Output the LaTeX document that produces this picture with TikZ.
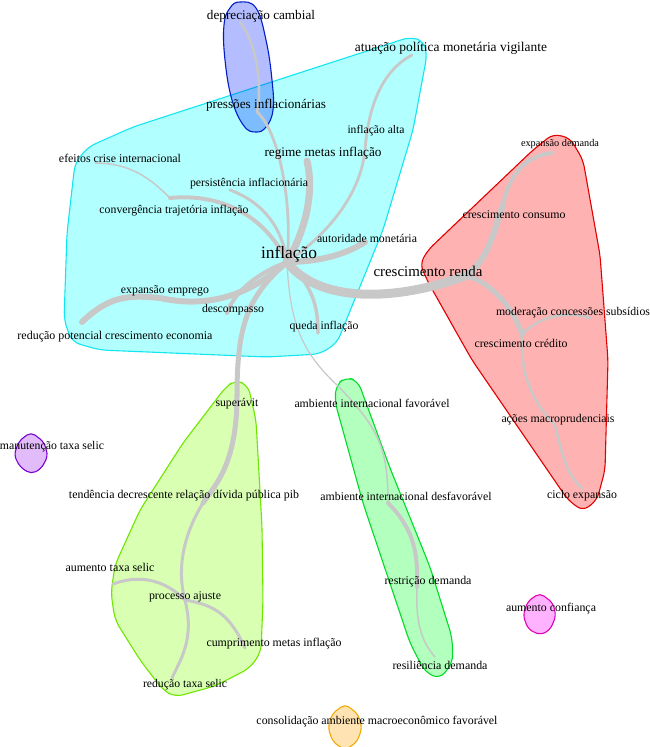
\documentclass[tikz,border=0pt]{standalone}
\usepackage{fontspec}
\setmainfont{Liberation Serif}
\definecolor{eg}{RGB}{200,200,200}
\definecolor{cyanf}{RGB}{0,255,255}\definecolor{cyanb}{RGB}{20,230,240}
\definecolor{bluef}{RGB}{5,38,255}\definecolor{blueb}{RGB}{0,30,200}
\definecolor{redf}{RGB}{255,0,0}\definecolor{redb}{RGB}{225,0,0}
\definecolor{chartf}{RGB}{127,255,0}\definecolor{chartb}{RGB}{110,230,0}
\definecolor{greenf}{RGB}{0,255,40}\definecolor{greenb}{RGB}{0,220,40}
\definecolor{purf}{RGB}{160,32,240}\definecolor{purb}{RGB}{120,0,210}
\definecolor{pinkf}{RGB}{255,0,255}\definecolor{pinkb}{RGB}{225,0,180}
\definecolor{oraf}{RGB}{255,165,0}\definecolor{orab}{RGB}{240,170,0}
\newcommand\wl[2]{\resizebox{#1pt}{!}{#2}}
\begin{document}
\begin{tikzpicture}[x=1pt,y=-1pt,
  blob/.style 2 args={draw=#1, fill=#2, fill opacity=0.3, line width=1.1pt, line join=round},
  cnx/.style={draw=eg, line width=#1, line cap=round},
  lab/.style={inner sep=0pt, text=black, yshift=-1.5pt}]
\useasboundingbox (0,0) rectangle (650,747);
\fill[white] (0,0) rectangle (650,747);
% groups
\draw[blob={cyanb}{cyanf}, rounded corners=8pt] (410,37) -- (424,41) -- (427,55) -- (413,130) -- (383,230) -- (337,343) -- (320,354) -- (267,357) -- (100,350) -- (72,342) -- (64,320) -- (67,233) -- (75,163) -- (88,147) -- (133,127) -- cycle;
\draw[blob={blueb}{bluef}] plot[smooth cycle, tension=0.7] coordinates {(240,2) (256,8) (266,40) (272,80) (273,110) (266,127) (256,132) (244,126) (232,100) (225,60) (224,25) (230,8)};
\draw[blob={redb}{redf}, rounded corners=7pt] (553,134) -- (570,138) -- (583,160) -- (600,255) -- (608,360) -- (605,470) -- (597,500) -- (583,511) -- (568,500) -- (472,360) -- (428,282) -- (420,264) -- (428,250) -- (533,150) -- cycle;
\draw[blob={chartb}{chartf}, rounded corners=8pt] (235,380) -- (248,385) -- (256,420) -- (262,527) -- (263,600) -- (261,652) -- (250,668) -- (215,686) -- (175,697) -- (163,690) -- (140,660) -- (115,620) -- (111,593) -- (115,565) -- (140,510) -- (183,443) -- (225,388) -- cycle;
\draw[blob={greenb}{greenf}, rounded corners=8pt] (346,377) -- (358,381) -- (390,468) -- (430,567) -- (452,637) -- (453,662) -- (440,679) -- (425,672) -- (410,643) -- (363,503) -- (335,402) -- (336,385) -- cycle;
\draw[blob={purb}{purf}, rounded corners=5pt] (31,432) -- (44,442) -- (48,456) -- (41,469) -- (31,474) -- (20,467) -- (14,455) -- (19,441) -- cycle;
\draw[blob={pinkb}{pinkf}, rounded corners=5pt] (540,593) -- (553,603) -- (556,616) -- (550,630) -- (540,635) -- (528,629) -- (523,615) -- (528,601) -- cycle;
\draw[blob={orab}{oraf}, rounded corners=5pt] (345,704) -- (358,714) -- (362,728) -- (357,742) -- (345,750) -- (333,742) -- (328,728) -- (332,714) -- cycle;
% points
\coordinate (hub) at (287,262);
\coordinate (pDep) at (240,22);
\coordinate (pPre) at (257,112);
\coordinate (pAtu) at (412,55);
\coordinate (pAlta) at (365,150);
\coordinate (pReg) at (307,161);
\coordinate (pEfe) at (95,163);
\coordinate (pCon) at (170,198);
\coordinate (pPer) at (230,190);
\coordinate (pAut) at (365,242);
\coordinate (pRen) at (465,276);
\coordinate (pCons) at (503,205);
\coordinate (pDem) at (552,153);
\coordinate (pCre) at (522,335);
\coordinate (pMod) at (590,318);
\coordinate (pAco) at (555,425);
\coordinate (pCic) at (583,489);
\coordinate (pRed) at (82,322);
\coordinate (pEmp) at (160,298);
\coordinate (pDes) at (227,313);
\coordinate (pSup) at (237,395);
\coordinate (pTen) at (203,503);
\coordinate (pPro) at (185,600);
\coordinate (pRts) at (172,678);
\coordinate (pAum) at (113,584);
\coordinate (pCum) at (245,648);
\coordinate (pQue) at (318,333);
\coordinate (pAif) at (340,388);
\coordinate (pAid) at (388,503);
\coordinate (pRes) at (417,587);
\coordinate (pRsl) at (435,657);
% connectors
\draw[cnx=2.5pt] (pDep) .. controls (258,45) and (262,90) .. (pPre);
\draw[cnx=2.8pt] (pPre) .. controls (278,130) and (293,200) .. (hub);
\draw[cnx=2.8pt] (pAtu) .. controls (380,72) and (368,110) .. (pAlta);
\draw[cnx=2.8pt] (pAlta) .. controls (360,200) and (320,240) .. (hub);
\draw[cnx=7pt] (pReg) .. controls (316,200) and (300,240) .. (hub);
\draw[cnx=1.5pt] (pEfe) .. controls (130,163) and (150,178) .. (pCon);
\draw[cnx=4pt] (pCon) .. controls (220,193) and (265,215) .. (hub);
\draw[cnx=3pt] (pPer) .. controls (265,203) and (283,230) .. (hub);
\draw[cnx=6pt] (pAut) .. controls (340,258) and (310,262) .. (hub);
\draw[cnx=9pt] (hub) .. controls (320,305) and (400,300) .. (pRen);
\draw[cnx=6pt] (pRen) .. controls (490,260) and (495,225) .. (pCons);
\draw[cnx=4pt] (pCons) .. controls (510,170) and (530,155) .. (pDem);
\draw[cnx=5pt] (pRen) .. controls (490,280) and (515,310) .. (pCre);
\draw[cnx=2.5pt] (pMod) .. controls (565,310) and (535,318) .. (pCre);
\draw[cnx=2.5pt] (pCre) .. controls (520,370) and (530,400) .. (pAco);
\draw[cnx=2.5pt] (pAco) .. controls (560,445) and (565,475) .. (pCic);
\draw[cnx=6pt] (pRed) .. controls (110,295) and (130,295) .. (pEmp);
\draw[cnx=6pt] (pEmp) .. controls (215,310) and (255,290) .. (hub);
\draw[cnx=4pt] (pDes) .. controls (235,290) and (260,272) .. (hub);
\draw[cnx=5pt] (hub) .. controls (250,295) and (237,320) .. (pSup);
\draw[cnx=5pt] (pSup) .. controls (237,465) and (215,485) .. (pTen);
\draw[cnx=3pt] (pTen) .. controls (180,540) and (178,575) .. (pPro);
\draw[cnx=3pt] (pPro) .. controls (195,640) and (180,660) .. (pRts);
\draw[cnx=3pt] (pAum) .. controls (140,574) and (165,580) .. (pPro);
\draw[cnx=3pt] (pPro) .. controls (215,605) and (230,615) .. (pCum);
\draw[cnx=3.5pt] (hub) .. controls (312,285) and (318,305) .. (pQue);
\draw[cnx=1.2pt] (hub) .. controls (290,330) and (305,355) .. (pAif);
\draw[cnx=1.5pt] (pAif) .. controls (380,430) and (388,450) .. (pAid);
\draw[cnx=4pt] (pAid) .. controls (415,530) and (418,555) .. (pRes);
\draw[cnx=1.5pt] (pRes) .. controls (415,630) and (425,645) .. (pRsl);
% labels
\node[lab] (n1) at (261,15) {\wl{108}{depreciação cambial}};
\node[lab] (n2) at (266,104) {\wl{120}{pressões inflacionárias}};
\node[lab] (n3) at (451,47) {\wl{192}{atuação política monetária vigilante}};
\node[lab] (n4) at (376,129) {\wl{57}{inflação alta}};
\node[lab] (n5) at (323,152) {\wl{117}{regime metas inflação}};
\node[lab] (n6) at (120,157) {\wl{122}{efeitos crise internacional}};
\node[lab] (n7) at (249,182) {\wl{118}{persistência inflacionária}};
\node[lab] (n8) at (174,209) {\wl{149}{convergência trajetória inflação}};
\node[lab] (n9) at (367,237) {\wl{100}{autoridade monetária}};
\node[lab] (n10) at (289,253) {\wl{56}{inflação}};
\node[lab] (n11) at (428,270) {\wl{109}{crescimento renda}};
\node[lab] (n12) at (165,289) {\wl{88}{expansão emprego}};
\node[lab] (n13) at (233,308) {\wl{62}{descompasso}};
\node[lab] (n14) at (115,335) {\wl{195}{redução potencial crescimento economia}};
\node[lab] (n15) at (324,325) {\wl{69}{queda inflação}};
\node[lab] (n16) at (560,143) {\wl{78}{expansão demanda}};
\node[lab] (n17) at (514,213) {\wl{103}{crescimento consumo}};
\node[lab] (n18) at (573,311) {\wl{154}{moderação concessões subsídios}};
\node[lab] (n19) at (521,342) {\wl{93}{crescimento crédito}};
\node[lab] (n20) at (558,418) {\wl{113}{ações macroprudenciais}};
\node[lab] (n21) at (582,494) {\wl{70}{ciclo expansão}};
\node[lab] (n22) at (237,402) {\wl{43}{superávit}};
\node[lab] (n23) at (372,402) {\wl{155}{ambiente internacional favorável}};
\node[lab] (n24) at (52,445) {\wl{104}{manutenção taxa selic}};
\node[lab] (n25) at (184,494) {\wl{230}{tendência decrescente relação dívida pública pib}};
\node[lab] (n26) at (406,495) {\wl{171}{ambiente internacional desfavorável}};
\node[lab] (n27) at (110,566) {\wl{89}{aumento taxa selic}};
\node[lab] (n28) at (185,595) {\wl{72}{processo ajuste}};
\node[lab] (n29) at (274,642) {\wl{135}{cumprimento metas inflação}};
\node[lab] (n30) at (428,580) {\wl{87}{restrição demanda}};
\node[lab] (n31) at (551,607) {\wl{90}{aumento confiança}};
\node[lab] (n32) at (440,664) {\wl{95}{resiliência demanda}};
\node[lab] (n33) at (185,683) {\wl{84}{redução taxa selic}};
\node[lab] (n34) at (377,720) {\wl{241}{consolidação ambiente macroeconômico favorável}};
\end{tikzpicture}
\end{document}
